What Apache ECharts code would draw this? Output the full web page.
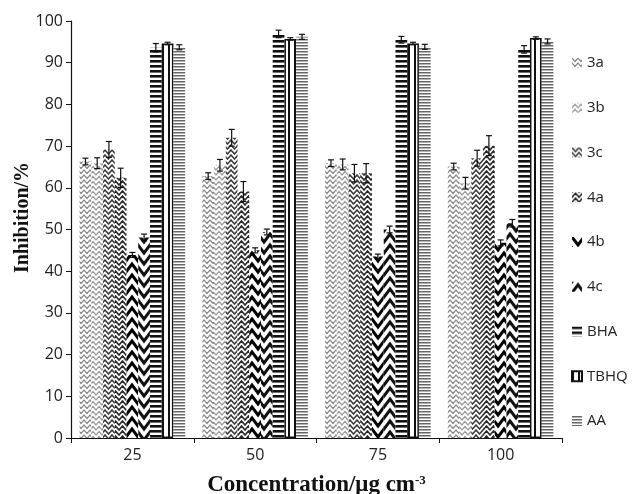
<!DOCTYPE html>
<html>
<head>
<meta charset="utf-8">
<script src="https://cdn.jsdelivr.net/npm/echarts@6/dist/echarts.min.js"></script>
<style>
html, body { margin: 0; padding: 0; background: #fff; }
#chart { width: 633px; height: 494px; }
</style>
</head>
<body>
<div id="chart"></div>
<script>
var categories = ['25', '50', '75', '100'];
var seriesNames = ['3a', '3b', '3c', '4a', '4b', '4c', 'BHA', 'TBHQ', 'AA'];

// inhibition %, one array per compound (25, 50, 75, 100 µg cm-3)
var v3a   = [66.3, 62.8, 65.9, 65.1];
var v3b   = [65.9, 65.4, 65.6, 61.1];
var v3c   = [69.2, 72.0, 63.5, 67.1];
var v4a   = [62.4, 59.1, 63.5, 70.1];
var v4b   = [43.9, 45.0, 43.5, 46.8];
var v4c   = [48.1, 49.4, 50.0, 51.5];
var vBHA  = [93.6, 96.9, 95.5, 93.2];
var vTBHQ = [94.6, 95.7, 94.6, 95.9];
var vAA   = [93.7, 96.2, 93.8, 95.1];

// error bar half heights
var e3a   = [0.8, 0.8, 0.8, 0.8];
var e3b   = [1.3, 1.4, 1.3, 1.4];
var e3c   = [1.9, 2.0, 2.1, 1.9];
var e4a   = [2.3, 2.4, 2.3, 2.4];
var e4b   = [0.6, 0.6, 0.6, 0.7];
var e4c   = [0.8, 0.7, 0.8, 0.9];
var eBHA  = [1.0, 0.9, 0.8, 0.9];
var eTBHQ = [0.3, 0.3, 0.3, 0.3];
var eAA   = [0.6, 0.6, 0.6, 0.6];

var values = [v3a, v3b, v3c, v4a, v4b, v4c, vBHA, vTBHQ, vAA];
var errors = [e3a, e3b, e3c, e4a, e4b, e4c, eBHA, eTBHQ, eAA];

function pattern(w, h, draw) {
  var c = document.createElement('canvas');
  c.width = w; c.height = h;
  var ctx = c.getContext('2d');
  ctx.fillStyle = '#fff';
  ctx.fillRect(0, 0, w, h);
  draw(ctx, w, h);
  return { image: c, repeat: 'repeat' };
}
// V shaped chevrons, repeated
function zigzag(col, lw, amp) {
  return function (ctx, w, h) {
    ctx.strokeStyle = col;
    ctx.lineWidth = lw;
    for (var y = -3 * h; y <= 3 * h; y += h) {
      ctx.beginPath();
      ctx.moveTo(-w / 2, y + amp);
      ctx.lineTo(0, y);
      ctx.lineTo(w / 2, y + amp);
      ctx.lineTo(w, y);
      ctx.lineTo(w * 1.5, y + amp);
      ctx.stroke();
    }
  };
}
function hstripes(col, thick) {
  return function (ctx, w, h) {
    ctx.fillStyle = col;
    ctx.fillRect(0, 0, w, thick);
  };
}

var fills = [
  pattern(6, 5, zigzag('#8a8a8a', 1.2, 3.5)),
  pattern(6, 5, zigzag('#999', 1.2, -3.5)),
  pattern(7, 5, zigzag('#3a3a3a', 1.5, 4)),
  pattern(7, 5, zigzag('#2a2a2a', 1.6, -4)),
  pattern(12, 11, zigzag('#000', 3, 8)),
  pattern(12, 11, zigzag('#111', 3, -8)),
  pattern(4, 5, hstripes('#111', 2.6)),
  pattern(6, 4, function (ctx) { ctx.fillStyle = '#111'; ctx.fillRect(0, 0, 2, 4); }),
  pattern(4, 3, hstripes('#666', 1.5))
];

var barSeries = seriesNames.map(function (name, i) {
  return {
    name: name,
    type: 'bar',
    data: values[i],
    barGap: '0%',
    barCategoryGap: '14%',
    itemStyle: {
      color: fills[i],
      borderColor: i === 7 ? '#111' : 'transparent',
      borderWidth: i === 7 ? 1.5 : 0
    },
    z: 2
  };
});

var errData = [];
seriesNames.forEach(function (name, s) {
  categories.forEach(function (c, k) {
    errData.push([k, values[s][k], errors[s][k], s]);
  });
});

var errSeries = {
  name: 'err',
  type: 'custom',
  data: errData,
  z: 5,
  renderItem: function (params, api) {
    var k = api.value(0), v = api.value(1), e = api.value(2), s = api.value(3);
    var band = api.size([1, 0])[0];
    var bw = band * 0.86 / 9;
    var x = api.coord([k, v])[0] + (s - 4) * bw;
    var yt = api.coord([k, v + e])[1];
    var yb = api.coord([k, v - e])[1];
    var st = { stroke: '#111', lineWidth: 1.2 };
    return {
      type: 'group',
      children: [
        { type: 'line', shape: { x1: x, y1: yt, x2: x, y2: yb }, style: st },
        { type: 'line', shape: { x1: x - 3, y1: yt, x2: x + 3, y2: yt }, style: st },
        { type: 'line', shape: { x1: x - 3, y1: yb, x2: x + 3, y2: yb }, style: st }
      ]
    };
  }
};

var chart = echarts.init(document.getElementById('chart'), null, { renderer: 'canvas' });
var option = {
  animation: false,
  backgroundColor: '#fff',
  grid: { left: 71, right: 71, top: 21, bottom: 56, outerBoundsMode: 'none' },
  legend: {
    data: seriesNames,
    orient: 'vertical',
    left: 571,
    top: 55,
    padding: 0,
    itemGap: 28.75,
    itemWidth: 10,
    itemHeight: 10,
    icon: 'rect',
    textStyle: { fontFamily: 'Open Sans', fontSize: 15, color: '#222', lineHeight: 16 }
  },
  xAxis: {
    type: 'category',
    data: categories,
    name: '{a|Concentration/μg cm}{b|-3}',
    nameLocation: 'middle',
    nameGap: 36,
    nameTextStyle: {
      rich: {
        a: { fontFamily: 'Liberation Serif', fontWeight: 'bold', fontSize: 23, color: '#111' },
        b: { fontFamily: 'Liberation Serif', fontWeight: 'bold', fontSize: 13, color: '#111', verticalAlign: 'top' }
      }
    },
    axisLine: { lineStyle: { color: '#111', width: 1.2 } },
    axisTick: { show: true, length: 5, lineStyle: { color: '#111' } },
    axisLabel: { fontFamily: 'Open Sans', fontSize: 16, color: '#222', margin: 9 }
  },
  yAxis: {
    type: 'value',
    min: 0,
    max: 100,
    interval: 10,
    name: 'Inhibition/%',
    nameLocation: 'middle',
    nameRotate: 90,
    nameGap: 38,
    nameMoveOverlap: false,
    nameTextStyle: {
      fontFamily: 'Liberation Serif', fontWeight: 'bold', fontSize: 20, color: '#111',
      padding: [0, 0, 0, 24]
    },
    splitLine: { show: false },
    axisLine: { show: true, lineStyle: { color: '#111', width: 1.2 } },
    axisTick: { show: true, length: 5, lineStyle: { color: '#111' } },
    axisLabel: { fontFamily: 'Open Sans', fontSize: 16, color: '#222', margin: 8 }
  },
  series: barSeries.concat([errSeries])
};
chart.setOption(option);
</script>
</body>
</html>
